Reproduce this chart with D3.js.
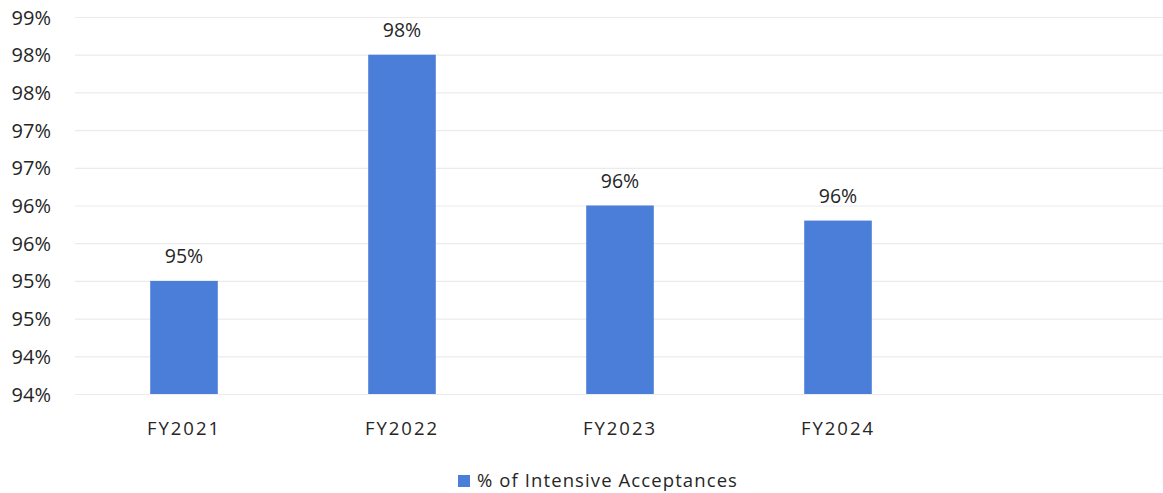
<!DOCTYPE html>
<html>
<head>
<meta charset="utf-8">
<script src="https://cdn.jsdelivr.net/npm/d3@7"></script>
<style>
	body { margin: 0; background: #fff; }
	svg text { font-family: "Open Sans", sans-serif; fill: #262626; }
</style>
</head>
<body>
<svg id="chart" width="1163" height="493"></svg>
<script>

// chart data (last slot is an empty category, as in the source chart)
let categories = ['FY2021', 'FY2022', 'FY2023', 'FY2024', ''];
let values = [95.0, 98.0, 96.0, 95.8, null];
let yTicks = [93.5, 94, 94.5, 95, 95.5, 96, 96.5, 97, 97.5, 98, 98.5];
let seriesName = '% of Intensive Acceptances';

let barColor = '#4a7ed8';

let svgObj = d3.select('#chart');

// scales
let xScale = d3.scaleBand()
	.domain(categories)
	.range([75, 1165])
	.paddingInner(0.69)
	.paddingOuter(0.345);
let yScale = d3.scaleLinear()
	.domain([93.5, 98.5])
	.range([394, 17]);

// gridlines
let yAxis = d3.axisLeft(yScale)
	.tickValues(yTicks)
	.tickSize(-1090)
	.tickPadding(24)
	.tickFormat(d => Math.round(d) + '%');
let gAxis = svgObj.append('g')
	.attr('transform', 'translate(75,0)')
	.call(yAxis);
gAxis.select('.domain').remove();
gAxis.selectAll('.tick line')
	.attr('stroke', '#ebebeb')
	.attr('stroke-width', 1.2);
gAxis.selectAll('.tick text')
	.style('font-size', '20px')
	.attr('dy', '0.35em');

// bars
let data = categories.map((c, i) => ({ cat: c, val: values[i] }))
	.filter(d => d.val !== null);

svgObj.selectAll('rect.bar')
	.data(data)
	.enter()
	.append('rect')
	.attr('class', 'bar')
	.attr('x', d => xScale(d.cat))
	.attr('y', d => yScale(d.val))
	.attr('width', xScale.bandwidth())
	.attr('height', d => yScale(93.5) - yScale(d.val))
	.attr('fill', barColor);

// value labels
svgObj.selectAll('text.val')
	.data(data)
	.enter()
	.append('text')
	.attr('class', 'val')
	.attr('x', d => xScale(d.cat) + xScale.bandwidth() / 2)
	.attr('y', d => yScale(d.val) - 18)
	.attr('text-anchor', 'middle')
	.style('font-size', '19.5px')
	.text(d => Math.round(d.val) + '%');

// category labels
svgObj.selectAll('text.cat')
	.data(categories)
	.enter()
	.append('text')
	.attr('class', 'cat')
	.attr('x', d => xScale(d) + xScale.bandwidth() / 2)
	.attr('y', 435)
	.attr('text-anchor', 'middle')
	.style('font-size', '18.5px')
	.style('letter-spacing', '2px')
	.text(d => d);

// legend
let legend = svgObj.append('g')
	.attr('transform', 'translate(458,475)');
legend.append('rect')
	.attr('width', 12)
	.attr('height', 12)
	.attr('fill', barColor);
legend.append('text')
	.attr('x', 19)
	.attr('y', 6)
	.attr('dy', '0.35em')
	.style('font-size', '18.5px')
	.style('letter-spacing', '1.1px')
	.text(seriesName);

</script>
</body>
</html>
